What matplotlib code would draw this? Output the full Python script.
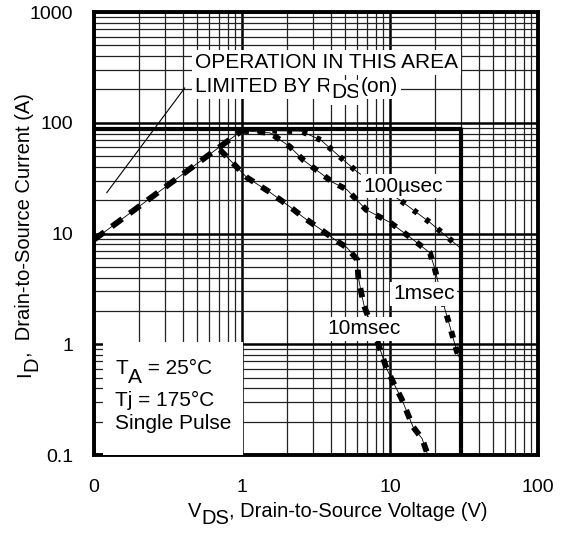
import numpy as np
import matplotlib
matplotlib.use("Agg")
from matplotlib import pyplot as plt
from matplotlib.patches import Rectangle
from matplotlib.ticker import FixedLocator, LogLocator, NullFormatter

plt.rcParams["font.family"] = ["Liberation Sans", "DejaVu Sans"]

# RDS(on) limited line, shared rising part
rds_v = [0.1, 0.3, 0.7, 1.0]
rds_i = [8.8, 26.0, 60.0, 85.0]

# 100 usec
us100_v = [1.0, 1.5, 2.5, 3.4, 6.0, 11.7, 18.6, 29.5]
us100_i = [85.0, 85.0, 84.0, 70.0, 36.0, 20.0, 12.6, 7.5]

# 1 msec
ms1_v = [1.0, 1.55, 2.1, 2.6, 4.1, 5.1, 6.9, 10.0, 13.6, 18.6, 20.0, 23.5, 25.4, 28.3, 29.5]
ms1_i = [85.0, 81.0, 61.0, 46.0, 29.0, 25.0, 16.4, 12.6, 9.3, 6.7, 4.9, 2.07, 1.45, 0.86, 0.75]

# 10 msec
ms10_v = [0.71, 1.08, 1.55, 2.1, 2.6, 3.4, 4.4, 5.1, 6.0, 6.1, 6.4, 6.7, 8.15, 8.8,
          9.5, 10.5, 12.0, 14.3, 16.5, 18.0]
ms10_i = [57.0, 32.0, 23.5, 17.5, 14.0, 10.9, 8.5, 7.5, 5.8, 4.1, 2.9, 2.2, 1.1, 0.81,
          0.6, 0.455, 0.32, 0.18, 0.14, 0.1]

# boundary box (max current / max voltage)
box_v = [0.1, 30.0, 30.0]
box_i = [88.0, 88.0, 0.1]

x_ticks = [0.1, 1, 10, 100]
x_labels = ["0", "1", "10", "100"]
y_ticks = [0.1, 1, 10, 100, 1000]
y_labels = ["0.1", "1", "10", "100", "1000"]

FS = 15
WHITE = dict(facecolor="white", edgecolor="none", pad=2.0)


def chain(ax, x, y, pieces, fs, rotation=0, transform=None, bbox=None):
    # pieces: (text, baseline shift in points); subscripts drawn full size, lowered
    kw = dict(fontsize=fs, zorder=7)
    if bbox:
        kw["bbox"] = bbox
    first = ax.text(x, y, pieces[0][0], ha="left", va="baseline", rotation=rotation,
                    rotation_mode="anchor", transform=transform or ax.transData, **kw)
    prev, prev_shift = first, pieces[0][1]
    for s, shift in pieces[1:]:
        d = shift - prev_shift
        if rotation == 0:
            prev = ax.annotate(s, xy=(1, 0), xycoords=prev, xytext=(0, d),
                               textcoords="offset points", ha="left", va="bottom", **kw)
        else:
            prev = ax.annotate(s, xy=(0, 1), xycoords=prev, xytext=(-d, 0),
                               textcoords="offset points", ha="left", va="bottom",
                               rotation=rotation, **kw)
        prev_shift = shift
    return first


fig = plt.figure(figsize=(5.65, 5.39), dpi=100)
ax = fig.add_axes([0.1664, 0.1558, 0.7858, 0.8219])
ax.set_xscale("log")
ax.set_yscale("log")
ax.set_xlim(0.1, 100)
ax.set_ylim(0.1, 1000)

ax.xaxis.set_major_locator(FixedLocator(x_ticks))
ax.set_xticklabels(x_labels)
ax.yaxis.set_major_locator(FixedLocator(y_ticks))
ax.set_yticklabels(y_labels)
ax.xaxis.set_minor_locator(LogLocator(base=10, subs=np.arange(2, 10)))
ax.yaxis.set_minor_locator(LogLocator(base=10, subs=np.arange(2, 10)))
ax.xaxis.set_minor_formatter(NullFormatter())
ax.yaxis.set_minor_formatter(NullFormatter())
ax.tick_params(which="both", length=0, labelsize=14)
ax.tick_params(axis="x", pad=17)
ax.tick_params(axis="y", pad=15)

ax.grid(which="major", color="black", linewidth=1.8)
ax.grid(which="minor", color="#222222", linewidth=0.9)
ax.set_axisbelow(True)
for s in ax.spines.values():
    s.set_linewidth(2.8)

ax.plot(box_v, box_i, color="black", linewidth=3.0, solid_capstyle="butt", zorder=3)

curves = [
    (rds_v, rds_i, (0, (2.2, 1.6))),
    (us100_v, us100_i, (0, (0.8, 1.8))),
    (ms1_v, ms1_i, (0, (1.2, 1.6))),
    (ms10_v, ms10_i, (0, (1.6, 1.6))),
]
for v, i, ls in curves:
    ax.plot(v, i, color="black", linewidth=0.6, zorder=4)
    ax.plot(v, i, color="black", linewidth=4.2, linestyle=ls, zorder=5)

ax.plot([0.122, 0.41], [23.4, 206.0], color="black", linewidth=0.8, zorder=4)

ax.text(0.48, 313, "OPERATION IN THIS AREA", fontsize=FS, ha="left", va="baseline",
        bbox=WHITE, zorder=7)
chain(ax, 0.48, 190, [("LIMITED BY R", 0), ("DS", -4.5), ("(on)", 0)], FS, bbox=WHITE)

ax.text(6.6, 23.9, "100µsec", fontsize=FS, ha="left", va="baseline", bbox=WHITE, zorder=7)
ax.text(10.5, 2.54, "1msec", fontsize=FS, ha="left", va="baseline", bbox=WHITE, zorder=7)
ax.text(3.75, 1.23, "10msec", fontsize=FS, ha="left", va="baseline", bbox=WHITE, zorder=7)

ax.add_patch(Rectangle((0.115, 0.1), 1.01 - 0.115, 1.05 - 0.1, facecolor="white",
                       edgecolor="none", zorder=6))
chain(ax, 0.139, 0.537, [("T", 0), ("A", -6), (" = 25°C", 0)], FS)
ax.text(0.139, 0.276, "Tj = 175°C", fontsize=FS, ha="left", va="baseline", zorder=7)
ax.text(0.139, 0.171, "Single Pulse", fontsize=FS, ha="left", va="baseline", zorder=7)

chain(ax, 0.212, -0.140,
      [("V", 0), ("DS", -5), (", Drain-to-Source Voltage (V)", 0)], 14.5,
      transform=ax.transAxes)
chain(ax, -0.144, 0.176,
      [("I", 0), ("D", -5), (",  Drain-to-Source Current (A)", 0)], 14.5,
      rotation=90, transform=ax.transAxes)

fig.savefig("out.png", dpi=100)
